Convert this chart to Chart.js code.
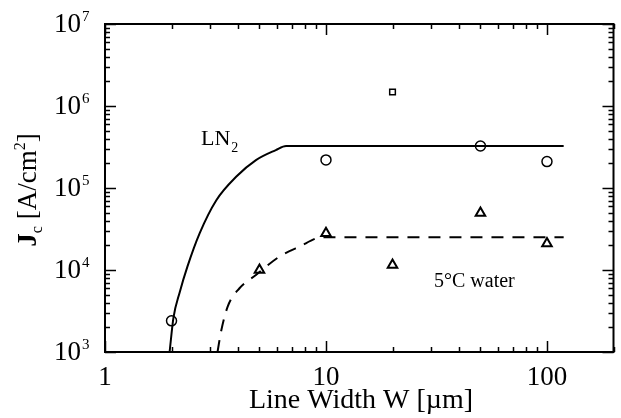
<!DOCTYPE html>
<html>
<head>
<meta charset="utf-8">
<script src="https://cdn.jsdelivr.net/npm/chart.js@4"></script>
<style>
  html, body { margin: 0; padding: 0; background: #fff; }
  #wrap { width: 621px; height: 418px; }
</style>
</head>
<body>
<div id="wrap"><canvas id="myChart" width="621" height="418"></canvas></div>
<script>
// measured points (LN2 = liquid nitrogen cooled, water = water cooled)
const lnX = [2, 10, 50, 100];
const lnY = [2.4e3, 2.2e5, 3.25e5, 2.1e5];
const sqX = [20];
const sqY = [1.48e6];
const waterX = [5, 10, 20, 50, 100];
const waterY = [1.0e4, 2.8e4, 1.15e4, 4.95e4, 2.1e4];

// guide curves
const lnCurveX = [1.96, 2.04, 2.18, 2.36, 2.68, 3.19, 3.92, 4.82, 5.93, 6.6, 119];
const lnCurveY = [1000, 2.6e3, 5.4e3, 1.1e4, 2.8e4, 7.1e4, 1.37e5, 2.19e5, 2.9e5, 3.25e5, 3.25e5];
const waterCurveX = [3.23, 3.35, 3.59, 4.06, 4.82, 6.14, 7.56, 9.6, 119];
const waterCurveY = [1000, 1.77e3, 3.57e3, 5.99e3, 8.7e3, 1.45e4, 1.92e4, 2.5e4, 2.5e4];

const xTicks = [1, 10, 100];
const yTicks = [3, 4, 5, 6, 7]; // exponents of 10

const toPts = (xs, ys) => xs.map((x, i) => ({ x: x, y: ys[i] }));

const SERIF = '"Liberation Serif", "DejaVu Serif", serif';

const decorations = {
  id: 'decorations',
  afterDraw(chart) {
    const ctx = chart.ctx;
    const a = chart.chartArea;
    const xs = chart.scales.x, ys = chart.scales.y;
    ctx.save();
    ctx.strokeStyle = '#000';
    ctx.fillStyle = '#000';

    // frame
    ctx.lineWidth = 2;
    ctx.strokeRect(a.left, a.top, a.right - a.left, a.bottom - a.top);

    // inward ticks on all sides
    ctx.lineWidth = 1.5;
    ctx.beginPath();
    for (let d = 1; d <= 100; d *= 10) {
      for (let k = 1; k <= 9; k++) {
        const v = k * d;
        if (v < xs.min || v > xs.max) continue;
        const px = Math.round(xs.getPixelForValue(v)) + 0.5;
        const len = k === 1 ? 11 : 5;
        ctx.moveTo(px, a.bottom); ctx.lineTo(px, a.bottom - len);
        ctx.moveTo(px, a.top); ctx.lineTo(px, a.top + len);
      }
    }
    for (let e = 3; e <= 7; e++) {
      for (let k = 1; k <= 9; k++) {
        const v = k * Math.pow(10, e);
        if (v < ys.min || v > ys.max) continue;
        const py = Math.round(ys.getPixelForValue(v)) + 0.5;
        const len = k === 1 ? 11 : 5;
        ctx.moveTo(a.left, py); ctx.lineTo(a.left + len, py);
        ctx.moveTo(a.right, py); ctx.lineTo(a.right - len, py);
      }
    }
    ctx.stroke();

    // x tick labels
    ctx.font = '27px ' + SERIF;
    ctx.textAlign = 'center';
    ctx.textBaseline = 'alphabetic';
    xTicks.forEach(v => {
      ctx.fillText(String(v), xs.getPixelForValue(v), a.bottom + 33);
    });

    // y tick labels 10^n
    yTicks.forEach(e => {
      const py = ys.getPixelForValue(Math.pow(10, e));
      ctx.font = '27px ' + SERIF;
      ctx.textAlign = 'right';
      ctx.fillText('10', 81, py + 8);
      ctx.font = '15px ' + SERIF;
      ctx.textAlign = 'left';
      ctx.fillText(String(e), 82, py - 3);
    });

    // x axis title
    ctx.font = '28px ' + SERIF;
    ctx.textAlign = 'center';
    ctx.fillText('Line Width W [\u00b5m]', 361, 408);

    // y axis title, rotated
    ctx.save();
    ctx.translate(36, 190);
    ctx.rotate(-Math.PI / 2);
    const parts = [
      { t: 'J', f: 'bold 27px ' + SERIF, dy: 0 },
      { t: 'c', f: '16px ' + SERIF, dy: 6 },
      { t: ' [A/cm', f: '27px ' + SERIF, dy: 0 },
      { t: '2', f: '16px ' + SERIF, dy: -11 },
      { t: ']', f: '27px ' + SERIF, dy: 0 }
    ];
    let total = 0;
    parts.forEach(p => { ctx.font = p.f; total += ctx.measureText(p.t).width; });
    let cx = -total / 2;
    ctx.textAlign = 'left';
    parts.forEach(p => {
      ctx.font = p.f;
      ctx.fillText(p.t, cx, p.dy);
      cx += ctx.measureText(p.t).width;
    });
    ctx.restore();

    // curve labels
    ctx.textAlign = 'left';
    ctx.font = '22px ' + SERIF;
    ctx.fillText('LN', 201, 145);
    const lnW = ctx.measureText('LN').width;
    ctx.font = '14px ' + SERIF;
    ctx.fillText('2', 201 + lnW + 1, 152);

    ctx.font = '20px ' + SERIF;
    ctx.fillText('5\u00b0C water', 434, 287);

    ctx.restore();
  }
};

new Chart(document.getElementById('myChart'), {
  type: 'scatter',
  data: {
    datasets: [
      {
        label: 'LN2 curve',
        data: toPts(lnCurveX, lnCurveY),
        showLine: true,
        borderColor: '#000',
        borderWidth: 2,
        pointRadius: 0,
        cubicInterpolationMode: 'monotone'
      },
      {
        label: 'water curve',
        data: toPts(waterCurveX, waterCurveY),
        showLine: true,
        borderColor: '#000',
        borderWidth: 2,
        borderDash: [12, 9],
        pointRadius: 0,
        cubicInterpolationMode: 'monotone'
      },
      {
        label: 'LN2',
        data: toPts(lnX, lnY),
        pointStyle: 'circle',
        pointRadius: 5,
        backgroundColor: '#fff',
        borderColor: '#000',
        borderWidth: 1.5
      },
      {
        label: 'square',
        data: toPts(sqX, sqY),
        pointStyle: 'rect',
        pointRadius: 4,
        backgroundColor: '#fff',
        borderColor: '#000',
        borderWidth: 1.5
      },
      {
        label: 'water',
        data: toPts(waterX, waterY),
        pointStyle: 'triangle',
        pointRadius: 5.5,
        backgroundColor: '#fff',
        borderColor: '#000',
        borderWidth: 2
      }
    ]
  },
  options: {
    responsive: false,
    animation: false,
    layout: { padding: { left: 0, right: 7, top: 24, bottom: 0 } },
    plugins: {
      legend: { display: false },
      tooltip: { enabled: false }
    },
    scales: {
      x: {
        type: 'logarithmic',
        min: 1,
        max: 200,
        grid: { display: false },
        border: { display: false },
        ticks: { display: false },
        afterFit: s => { s.height = 66; }
      },
      y: {
        type: 'logarithmic',
        min: 1e3,
        max: 1e7,
        grid: { display: false },
        border: { display: false },
        ticks: { display: false },
        afterFit: s => { s.width = 105; }
      }
    }
  },
  plugins: [decorations]
});
</script>
</body>
</html>
